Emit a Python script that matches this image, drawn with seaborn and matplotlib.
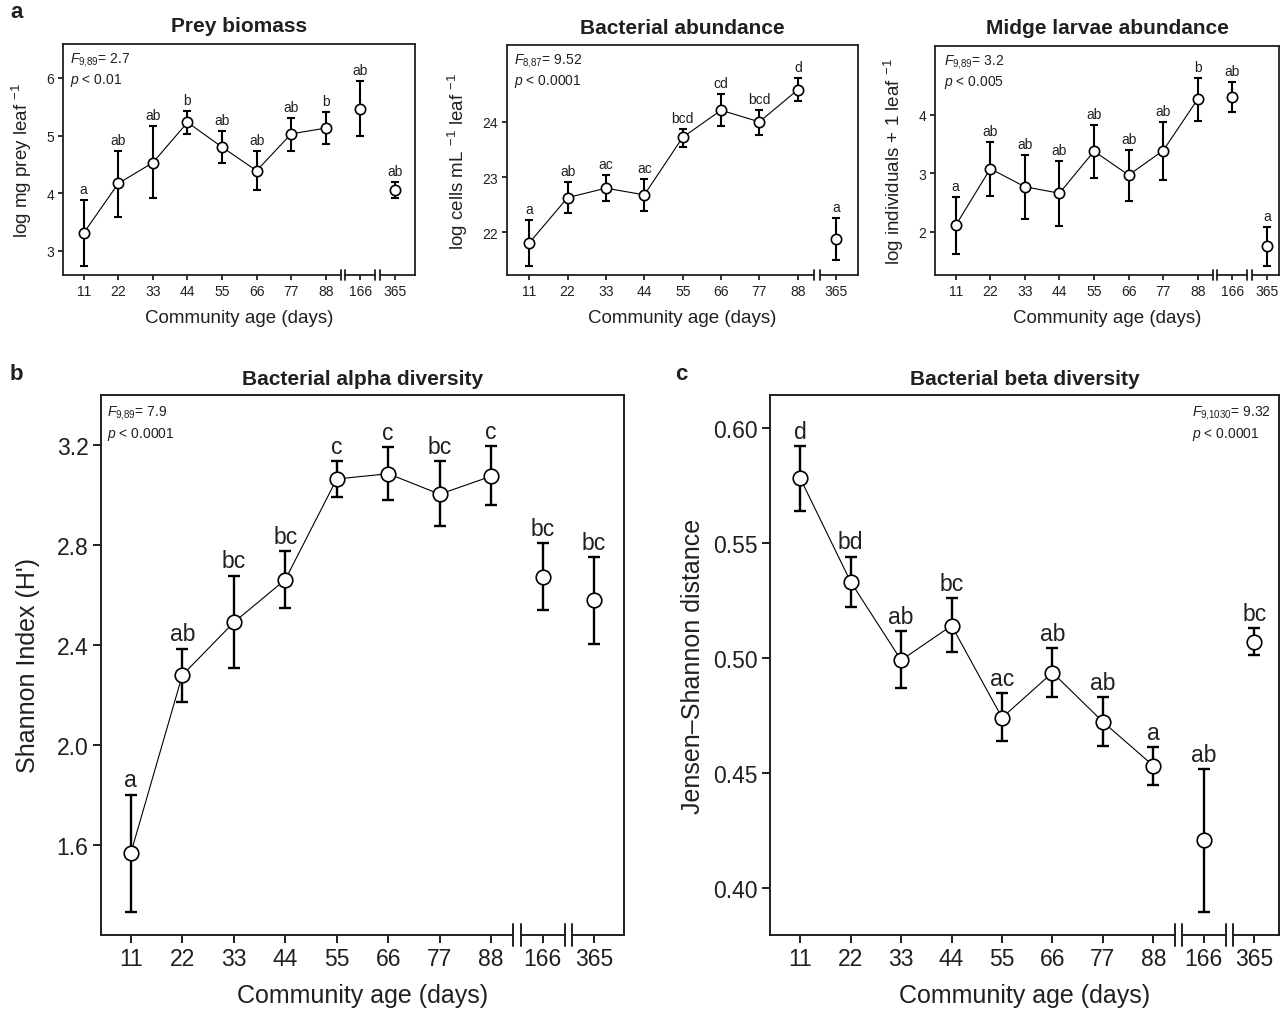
import numpy as np
import matplotlib
matplotlib.use("Agg")
import matplotlib.pyplot as plt
import seaborn as sns

# =====================
# DATA
# =====================
days_all = ["11", "22", "33", "44", "55", "66", "77", "88", "166", "365"]
days_bact = ["11", "22", "33", "44", "55", "66", "77", "88", "365"]

prey_mean = [3.31, 4.17, 4.53, 5.23, 4.80, 4.39, 5.03, 5.13, 5.47, 4.06]
prey_lo = [2.74, 3.58, 3.92, 5.03, 4.53, 4.05, 4.73, 4.86, 5.00, 3.92]
prey_hi = [3.88, 4.73, 5.16, 5.43, 5.08, 4.73, 5.31, 5.41, 5.95, 4.19]
prey_letters = ["a", "ab", "ab", "b", "ab", "ab", "ab", "b", "ab", "ab"]

bact_mean = [21.81, 22.63, 22.80, 22.68, 23.72, 24.21, 24.00, 24.58, 21.89]
bact_lo = [21.40, 22.36, 22.57, 22.39, 23.55, 23.92, 23.77, 24.37, 21.51]
bact_hi = [22.23, 22.91, 23.04, 22.97, 23.87, 24.50, 24.22, 24.79, 22.26]
bact_letters = ["a", "ab", "ac", "ac", "bcd", "cd", "bcd", "d", "a"]

midge_mean = [2.11, 3.08, 2.77, 2.66, 3.38, 2.97, 3.39, 4.27, 4.30, 1.75]
midge_lo = [1.62, 2.62, 2.22, 2.10, 2.92, 2.53, 2.89, 3.90, 4.05, 1.42]
midge_hi = [2.59, 3.54, 3.32, 3.21, 3.83, 3.40, 3.88, 4.63, 4.57, 2.08]
midge_letters = ["a", "ab", "ab", "ab", "ab", "ab", "ab", "b", "ab", "a"]

alpha_mean = [1.567, 2.279, 2.490, 2.661, 3.064, 3.085, 3.003, 3.075, 2.673, 2.578]
alpha_lo = [1.330, 2.170, 2.307, 2.549, 2.993, 2.978, 2.874, 2.958, 2.541, 2.404]
alpha_hi = [1.800, 2.385, 2.677, 2.774, 3.134, 3.190, 3.134, 3.195, 2.807, 2.750]
alpha_letters = ["a", "ab", "bc", "bc", "c", "c", "bc", "c", "bc", "bc"]

beta_mean = [0.578, 0.533, 0.499, 0.514, 0.474, 0.4936, 0.4722, 0.4531, 0.4209, 0.507]
beta_lo = [0.564, 0.522, 0.487, 0.5025, 0.4639, 0.4829, 0.4617, 0.4448, 0.3896, 0.5013]
beta_hi = [0.592, 0.544, 0.5116, 0.5259, 0.4848, 0.5042, 0.4829, 0.4613, 0.4517, 0.513]
beta_letters = ["d", "bd", "ab", "bc", "ac", "ab", "ab", "a", "ab", "bc"]

# =====================
# STYLE
# =====================
sns.set_theme(style="ticks")
plt.rcParams["font.family"] = ["Liberation Sans", "DejaVu Sans"]
plt.rcParams["mathtext.fontset"] = "custom"
plt.rcParams["mathtext.rm"] = "Liberation Sans"
plt.rcParams["mathtext.it"] = "Liberation Sans:italic"
INK = "#231f20"
plt.rcParams["text.color"] = INK
plt.rcParams["axes.labelcolor"] = INK
plt.rcParams["xtick.color"] = INK
plt.rcParams["ytick.color"] = INK
plt.rcParams["axes.edgecolor"] = INK

W, H = 1283, 1012
fig = plt.figure(figsize=(W / 100, H / 100), dpi=100)


def px_axes(left, top, right, bottom):
    return fig.add_axes([left / W, 1 - bottom / H, (right - left) / W, (bottom - top) / H])


def draw_panel(ax, labels, mean, lo, hi, letters, n_line, breaks, xlim, ylim,
               yticks, yfmt, big):
    x = np.arange(len(mean))
    mean, lo, hi = np.array(mean), np.array(lo), np.array(hi)
    s = dict(
        elw=1.7 if big else 1.5, cap=4.3 if big else 3.0, ms=110 if big else 55,
        lab=16.5 if big else 10, tick=16.5 if big else 10, off=6 if big else 5,
        tl=6 if big else 3.5, spine=1.4 if big else 1.3,
    )
    ax.errorbar(x, mean, yerr=[mean - lo, hi - mean], fmt="none", ecolor="black",
                elinewidth=s["elw"], capsize=s["cap"], capthick=s["elw"], zorder=2)
    sns.lineplot(x=x[:n_line], y=mean[:n_line], color="black", lw=0.8, ax=ax, zorder=1)
    sns.scatterplot(x=x, y=mean, s=s["ms"], color="white", edgecolor="black",
                    linewidth=1.2, ax=ax, zorder=3)
    for xi, h, t in zip(x, hi, letters):
        ax.annotate(t, (xi, h), xytext=(0, s["off"]), textcoords="offset points",
                    ha="center", va="baseline", fontsize=s["lab"], color=INK)

    ax.set_xlim(*xlim)
    ax.set_ylim(*ylim)
    ax.set_xticks(x)
    ax.set_xticklabels(labels)
    ax.set_yticks(yticks)
    ax.set_yticklabels([yfmt.format(v) for v in yticks])
    ax.tick_params(labelsize=s["tick"], length=s["tl"], width=s["spine"], pad=3)
    for sp in ax.spines.values():
        sp.set_linewidth(s["spine"])
        sp.set_visible(True)

    # broken x axis
    ax.spines["bottom"].set_visible(False)
    trans = ax.get_xaxis_transform()
    gap = 0.07
    mark = 0.02
    edges = [xlim[0]] + [v for b in breaks for v in (b - gap, b + gap)] + [xlim[1]]
    for a, b in zip(edges[::2], edges[1::2]):
        ax.plot([a, b], [0, 0], transform=trans, color=INK, lw=s["spine"],
                clip_on=False, solid_capstyle="projecting", zorder=5)
    for b in breaks:
        for v in (b - gap, b + gap):
            ax.plot([v, v], [-mark, mark], transform=trans, color=INK, lw=s["spine"],
                    clip_on=False, zorder=5)


# =====================
# PANEL a
# =====================
ax1 = px_axes(63, 45, 415, 276)
draw_panel(ax1, days_all, prey_mean, prey_lo, prey_hi, prey_letters, 8, [7.5, 8.5],
           (-0.6, 9.58), (2.58, 6.59), [3, 4, 5, 6], "{:.0f}", False)
ax1.set_title("Prey biomass", fontsize=15, fontweight="bold", pad=9)
ax1.set_ylabel(r"log mg prey leaf $^{-1}$", fontsize=13.5, labelpad=9)
ax1.set_xlabel("Community age (days)", fontsize=13.5, labelpad=8)
ax1.text(0.02, 0.975, "$\\mathit{F}_{\\mathrm{9{,}89}}$= 2.7\n$\\mathit{p}$ < 0.01",
         transform=ax1.transAxes, ha="left", va="top", fontsize=10, linespacing=1.25)

ax2 = px_axes(507, 46, 858, 276)
draw_panel(ax2, days_bact, bact_mean, bact_lo, bact_hi, bact_letters, 8, [7.5],
           (-0.58, 8.57), (21.23, 25.39), [22, 23, 24], "{:.0f}", False)
ax2.set_title("Bacterial abundance", fontsize=15, fontweight="bold", pad=9)
ax2.set_ylabel(r"log cells mL $^{-1}$ leaf $^{-1}$", fontsize=13.5, labelpad=9)
ax2.set_xlabel("Community age (days)", fontsize=13.5, labelpad=8)
ax2.text(0.02, 0.975, "$\\mathit{F}_{\\mathrm{8{,}87}}$= 9.52\n$\\mathit{p}$ < 0.0001",
         transform=ax2.transAxes, ha="left", va="top", fontsize=10, linespacing=1.25)

ax3 = px_axes(935, 47, 1279, 276)
draw_panel(ax3, days_all, midge_mean, midge_lo, midge_hi, midge_letters, 8, [7.5, 8.5],
           (-0.6, 9.35), (1.26, 5.18), [2, 3, 4], "{:.0f}", False)
ax3.set_title("Midge larvae abundance", fontsize=15, fontweight="bold", pad=9)
ax3.set_ylabel(r"log individuals + 1 leaf $^{-1}$", fontsize=13.5, labelpad=9)
ax3.set_xlabel("Community age (days)", fontsize=13.5, labelpad=8)
ax3.text(0.025, 0.975, "$\\mathit{F}_{\\mathrm{9{,}89}}$= 3.2\n$\\mathit{p}$ < 0.005",
         transform=ax3.transAxes, ha="left", va="top", fontsize=10, linespacing=1.25)

# =====================
# PANEL b
# =====================
ax4 = px_axes(101, 396, 624, 936)
draw_panel(ax4, days_all, alpha_mean, alpha_lo, alpha_hi, alpha_letters, 8, [7.5, 8.5],
           (-0.58, 9.58), (1.239, 3.40), [1.6, 2.0, 2.4, 2.8, 3.2], "{:.1f}", True)
ax4.set_title("Bacterial alpha diversity", fontsize=15, fontweight="bold", pad=8)
ax4.set_ylabel("Shannon Index (H')", fontsize=18, labelpad=12)
ax4.set_xlabel("Community age (days)", fontsize=18, labelpad=9)
ax4.text(0.012, 0.985, "$\\mathit{F}_{\\mathrm{9{,}89}}$= 7.9\n$\\mathit{p}$ < 0.0001",
         transform=ax4.transAxes, ha="left", va="top", fontsize=10, linespacing=1.3)

# =====================
# PANEL c
# =====================
ax5 = px_axes(770, 396, 1279, 936)
draw_panel(ax5, days_all, beta_mean, beta_lo, beta_hi, beta_letters, 8, [7.5, 8.5],
           (-0.6, 9.49), (0.3796, 0.6142), [0.40, 0.45, 0.50, 0.55, 0.60], "{:.2f}", True)
ax5.set_title("Bacterial beta diversity", fontsize=15, fontweight="bold", pad=8)
ax5.set_ylabel("Jensen\u2013Shannon distance", fontsize=18, labelpad=6)
ax5.set_xlabel("Community age (days)", fontsize=18, labelpad=9)
ax5.text(0.985, 0.985, "$\\mathit{F}_{\\mathrm{9{,}1030}}$= 9.32\n$\\mathit{p}$ < 0.0001",
         transform=ax5.transAxes, ha="right", va="top", fontsize=10, linespacing=1.3,
         multialignment="left")

# panel letters
fig.text(10 / W, 1 - 12 / H, "a", fontsize=16, fontweight="bold", va="center")
fig.text(10 / W, 1 - 375 / H, "b", fontsize=16, fontweight="bold", va="center")
fig.text(675 / W, 1 - 375 / H, "c", fontsize=16, fontweight="bold", va="center")

plt.savefig("out.png", dpi=100)
